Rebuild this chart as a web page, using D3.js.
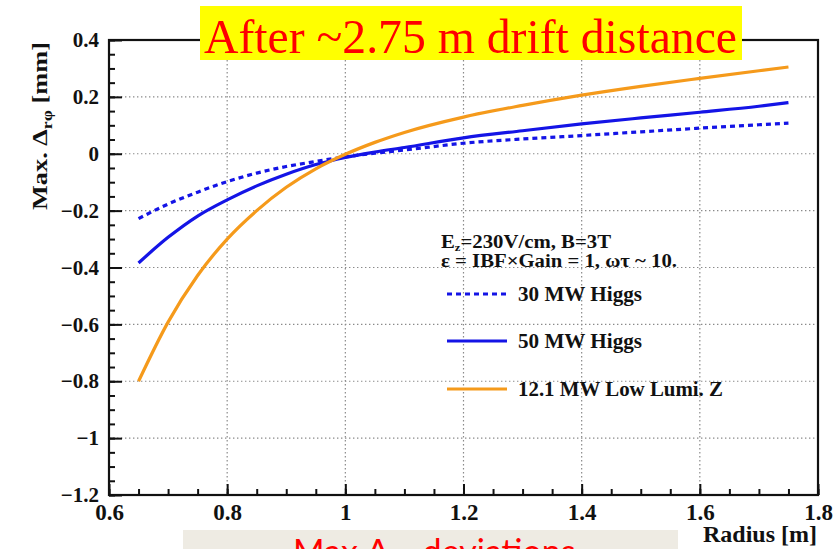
<!DOCTYPE html>
<html>
<head>
<meta charset="utf-8">
<script src="https://cdn.jsdelivr.net/npm/d3@7"></script>
<style>
  html, body { margin: 0; padding: 0; background: #fff; overflow: hidden; }
  svg { display: block; }
  .tick-label { font-family: "Liberation Serif", "DejaVu Serif", serif; font-weight: bold; fill: #111; }
</style>
</head>
<body>
<svg id="chart" width="833" height="549"></svg>
<script>
// Radius sampling points [m]
const radius = [0.65, 0.70, 0.75, 0.80, 0.85, 0.90, 0.95, 1.00, 1.05, 1.10, 1.20, 1.30, 1.40, 1.50, 1.60, 1.70, 1.75];

// Max. Δrφ [mm] for each running scenario
const higgs30 = [-0.228, -0.177, -0.135, -0.098, -0.068, -0.045, -0.027, -0.011, 0.002, 0.013, 0.037, 0.052, 0.064, 0.077, 0.090, 0.102, 0.108];
const higgs50 = [-0.384, -0.294, -0.219, -0.162, -0.113, -0.072, -0.038, -0.013, 0.006, 0.022, 0.056, 0.081, 0.105, 0.126, 0.146, 0.167, 0.180];
const lowLumiZ = [-0.800, -0.592, -0.428, -0.300, -0.200, -0.118, -0.053, -0.002, 0.040, 0.075, 0.129, 0.170, 0.206, 0.237, 0.265, 0.292, 0.305];

const seriesNames = ["30 MW Higgs", "50 MW Higgs", "12.1 MW Low Lumi. Z"];

// Axis ticks
const xTicks = [0.6, 0.8, 1.0, 1.2, 1.4, 1.6, 1.8];
const yTicks = [0.4, 0.2, 0, -0.2, -0.4, -0.6, -0.8, -1.0, -1.2];

const svg = d3.select("#chart");
const W = 833, H = 549;
const frame = { left: 109, right: 818, top: 40, bottom: 495 };

const x = d3.scaleLinear().domain([0.6, 1.8]).range([frame.left, frame.right]);
const y = d3.scaleLinear().domain([-1.2, 0.4]).range([frame.bottom, frame.top]);

svg.append("rect").attr("width", W).attr("height", H).attr("fill", "#fff");

// Dotted grid at major ticks
const grid = svg.append("g").attr("stroke", "#8a8a8a").attr("stroke-width", 1.2)
  .attr("stroke-dasharray", "1.4,2.6");
grid.selectAll(".gx").data(xTicks.slice(1, -1)).join("line")
  .attr("x1", d => x(d)).attr("x2", d => x(d)).attr("y1", frame.top).attr("y2", frame.bottom);
grid.selectAll(".gy").data(yTicks.slice(1, -1)).join("line")
  .attr("x1", frame.left).attr("x2", frame.right).attr("y1", d => y(d)).attr("y2", d => y(d));

// Axes: ticks drawn inside the frame
const fmt = d => {
  const s = d3.format("~g")(+d.toFixed(2));
  return s.replace("-", "\u2212");
};
const minorX = d3.range(0, 25).map(i => 0.6 + i * 0.05);
const minorY = d3.range(0, 33).map(i => -1.2 + i * 0.05);

const xAxisMinor = d3.axisBottom(x).tickValues(minorX).tickSize(-6).tickFormat("");
const xAxis = d3.axisBottom(x).tickValues(xTicks).tickSize(-11).tickPadding(13).tickFormat(fmt);
const yAxisMinor = d3.axisLeft(y).tickValues(minorY).tickSize(-6).tickFormat("");
const yAxis = d3.axisLeft(y).tickValues(yTicks).tickSize(-13).tickPadding(10).tickFormat(fmt);

function styleAxis(g) {
  g.select(".domain").remove();
  g.selectAll(".tick line").attr("stroke", "#111").attr("stroke-width", 2);
}

svg.append("g").attr("transform", `translate(0,${frame.bottom})`).call(xAxisMinor).call(styleAxis);
const gx = svg.append("g").attr("transform", `translate(0,${frame.bottom})`).call(xAxis).call(styleAxis);
gx.selectAll("text").attr("class", "tick-label").attr("font-size", 23)
  .attr("dy", "0.5em");
svg.append("g").attr("transform", `translate(${frame.left},0)`).call(yAxisMinor).call(styleAxis);
const gy = svg.append("g").attr("transform", `translate(${frame.left},0)`).call(yAxis).call(styleAxis);
gy.selectAll("text").attr("class", "tick-label").attr("font-size", 21);

// Frame
svg.append("rect").attr("x", frame.left).attr("y", frame.top)
  .attr("width", frame.right - frame.left).attr("height", frame.bottom - frame.top)
  .attr("fill", "none").attr("stroke", "#111").attr("stroke-width", 2.2);

// Curves
const line = d3.line().x(d => x(d[0])).y(d => y(d[1])).curve(d3.curveMonotoneX);
const curves = [
  { values: higgs30, color: "#1414e6", dash: "5,4", width: 3.2 },
  { values: higgs50, color: "#1414e6", dash: null, width: 3.2 },
  { values: lowLumiZ, color: "#f59a1b", dash: null, width: 3.2 }
];
svg.append("g").selectAll("path").data(curves).join("path")
  .attr("d", c => line(radius.map((r, i) => [r, c.values[i]])))
  .attr("fill", "none")
  .attr("stroke", c => c.color)
  .attr("stroke-width", c => c.width)
  .attr("stroke-dasharray", c => c.dash);

// Legend
const serif = "'Liberation Serif', 'DejaVu Serif', serif";
const legend = svg.append("g").attr("font-family", serif).attr("font-weight", "bold").attr("fill", "#111");
const h1 = legend.append("text").attr("x", 441).attr("y", 248).attr("font-size", 18)
  .attr("textLength", 170).attr("lengthAdjust", "spacingAndGlyphs");
h1.append("tspan").text("E");
h1.append("tspan").attr("font-size", 11).attr("dy", 3).text("z");
h1.append("tspan").attr("dy", -3).text("=230V/cm, B=3T");
legend.append("text").attr("x", 441).attr("y", 267).attr("font-size", 18)
  .attr("textLength", 236).attr("lengthAdjust", "spacingAndGlyphs")
  .text("\u03b5 = IBF\u00d7Gain = 1,  \u03c9\u03c4 ~ 10.");

const legendY = [294, 341, 389];
const legendLen = [124, 124, 205];
const legendText = legend.selectAll(".entry").data(curves).join("g");
legendText.append("line")
  .attr("x1", 447).attr("x2", 507)
  .attr("y1", (c, i) => legendY[i]).attr("y2", (c, i) => legendY[i])
  .attr("stroke", c => c.color).attr("stroke-width", c => c.width)
  .attr("stroke-dasharray", c => c.dash);
legendText.append("text")
  .attr("x", 518).attr("y", (c, i) => legendY[i] + 7).attr("font-size", 20)
  .attr("textLength", (c, i) => legendLen[i]).attr("lengthAdjust", "spacingAndGlyphs")
  .text((c, i) => seriesNames[i]);

// Axis titles
const yt = svg.append("text").attr("font-family", serif).attr("font-weight", "bold").attr("font-size", 22)
  .attr("fill", "#111").attr("x", 0).attr("y", 0)
  .attr("textLength", 168).attr("lengthAdjust", "spacingAndGlyphs")
  .attr("transform", "translate(47,210) rotate(-90)");
yt.append("tspan").text("Max.  \u0394");
yt.append("tspan").attr("font-size", 15).attr("dy", 5).text("r\u03c6");
yt.append("tspan").attr("dy", -5).text(" [mm]");

svg.append("text").attr("x", 817).attr("y", 542).attr("text-anchor", "end")
  .attr("font-family", serif).attr("font-weight", "bold").attr("font-size", 24).attr("fill", "#111")
  .text("Radius [m]");

// Heading banner
svg.append("rect").attr("x", 200).attr("y", 6).attr("width", 542).attr("height", 54).attr("fill", "#ffff00");
svg.append("text").attr("x", 204).attr("y", 53).attr("font-family", serif).attr("font-size", 49)
  .attr("fill", "#ff0000").attr("textLength", 533).attr("lengthAdjust", "spacingAndGlyphs")
  .text("After ~2.75 m drift distance");

// Caption box below the chart
svg.append("rect").attr("x", 183).attr("y", 530).attr("width", 495).attr("height", 30).attr("fill", "#eeebe3");
const cap = svg.append("text").attr("x", 293).attr("y", 564).attr("font-family", "Lato, 'Open Sans', sans-serif")
  .attr("font-size", 34).attr("fill", "#ff0000");
cap.append("tspan").text("Max \u0394");
cap.append("tspan").attr("font-size", 22).attr("dy", 6).text("r\u03c6");
cap.append("tspan").attr("dy", -6).text(" deviations");
</script>
</body>
</html>
